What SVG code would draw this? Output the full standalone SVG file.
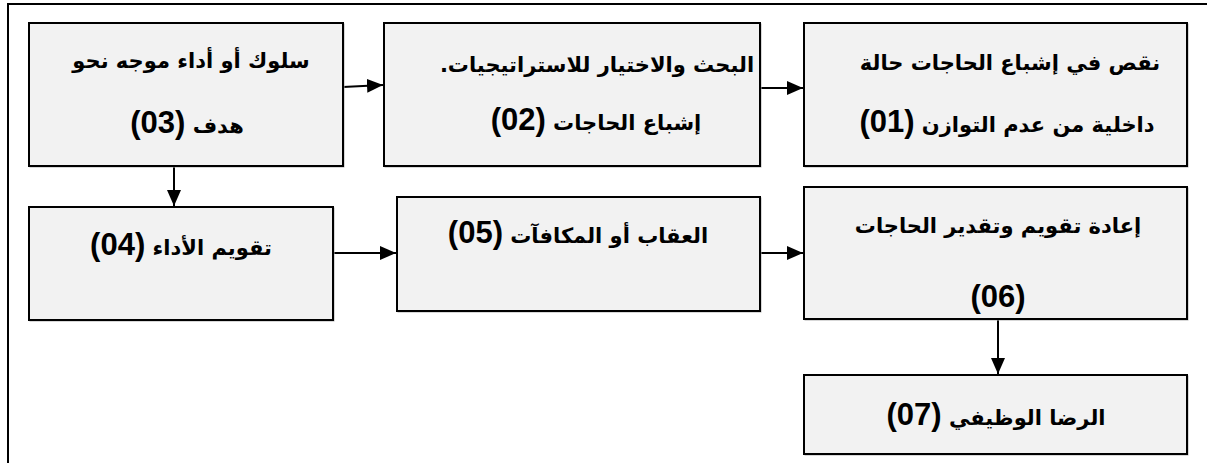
<svg xmlns="http://www.w3.org/2000/svg" width="1207" height="463" viewBox="0 0 1207 463">
<style>
.box{fill:#f2f2f2;stroke:#000;stroke-width:2}
.sh{fill:none;stroke:#b0b0b0;stroke-width:1}
.ar{font-family:"DejaVu Sans",sans-serif;font-weight:bold;font-size:21px;fill:#000}
.num{font-family:"Liberation Sans",Arial,sans-serif;font-weight:bold;font-size:31px}
.con{stroke:#000;stroke-width:2;fill:none;marker-end:url(#ah)}
</style>
<defs>
<marker id="ah" markerUnits="userSpaceOnUse" markerWidth="17" markerHeight="15" refX="16" refY="7" orient="auto">
<path d="M0,0 L16,7 L0,14 z" fill="#000"/>
</marker>
</defs>
<rect width="1207" height="463" fill="#fff"/>
<path d="M8,470 L8,4 L1212,4" fill="none" stroke="#000" stroke-width="2"/>

<g id="connectors">
<path class="con" d="M343,87 L383,85"/>
<path class="con" d="M760,88 L803,88"/>
<path class="con" d="M174,166 L174,206"/>
<path class="con" d="M333,253 L396,253"/>
<path class="con" d="M760,253 L803,253"/>
<path class="con" d="M998,319 L998,374"/>
</g>

<g id="n03">
<rect class="sh" x="30" y="24" width="314" height="143"/>
<rect class="box" x="29" y="23" width="314" height="143"/>
<text class="ar" x="191" y="68" text-anchor="middle" direction="rtl">سلوك أو  أداء موجه نحو</text>
<text class="ar" x="187" y="133" text-anchor="middle" direction="rtl">هدف <tspan class="num">(03)</tspan></text>
</g>

<g id="n02">
<rect class="sh" x="385" y="24" width="376" height="143"/>
<rect class="box" x="384" y="23" width="376" height="143"/>
<text class="ar" x="597" y="72" text-anchor="middle" direction="rtl">البحث والاختيار للاستراتيجيات.</text>
<text class="ar" x="596" y="130" text-anchor="middle" direction="rtl">إشباع الحاجات <tspan class="num">(02)</tspan></text>
</g>

<g id="n01">
<rect class="sh" x="805" y="24" width="383" height="143"/>
<rect class="box" x="804" y="23" width="383" height="143"/>
<text class="ar" x="1010" y="70" text-anchor="middle" direction="rtl">نقص في إشباع الحاجات حالة</text>
<text class="ar" x="1007" y="132" text-anchor="middle" direction="rtl">داخلية من عدم التوازن <tspan class="num">(01)</tspan></text>
</g>

<g id="n04">
<rect class="sh" x="30" y="208" width="304" height="113"/>
<rect class="box" x="29" y="207" width="304" height="113"/>
<text class="ar" x="181" y="255" text-anchor="middle" direction="rtl">تقويم الأداء <tspan class="num">(04)</tspan></text>
</g>

<g id="n05">
<rect class="sh" x="398" y="198" width="363" height="114"/>
<rect class="box" x="397" y="197" width="363" height="114"/>
<text class="ar" x="578" y="243" text-anchor="middle" direction="rtl">العقاب أو المكافآت <tspan class="num">(05)</tspan></text>
</g>

<g id="n06">
<rect class="sh" x="805" y="188" width="383" height="132"/>
<rect class="box" x="804" y="187" width="383" height="132"/>
<text class="ar" x="998" y="233" text-anchor="middle" direction="rtl">إعادة تقويم وتقدير الحاجات</text>
<text class="num" x="998" y="307" text-anchor="middle">(06)</text>
</g>

<g id="n07">
<rect class="sh" x="805" y="376" width="383" height="79"/>
<rect class="box" x="804" y="375" width="383" height="79"/>
<text class="ar" x="996" y="425" text-anchor="middle" direction="rtl">الرضا الوظيفي <tspan class="num">(07)</tspan></text>
</g>
</svg>
